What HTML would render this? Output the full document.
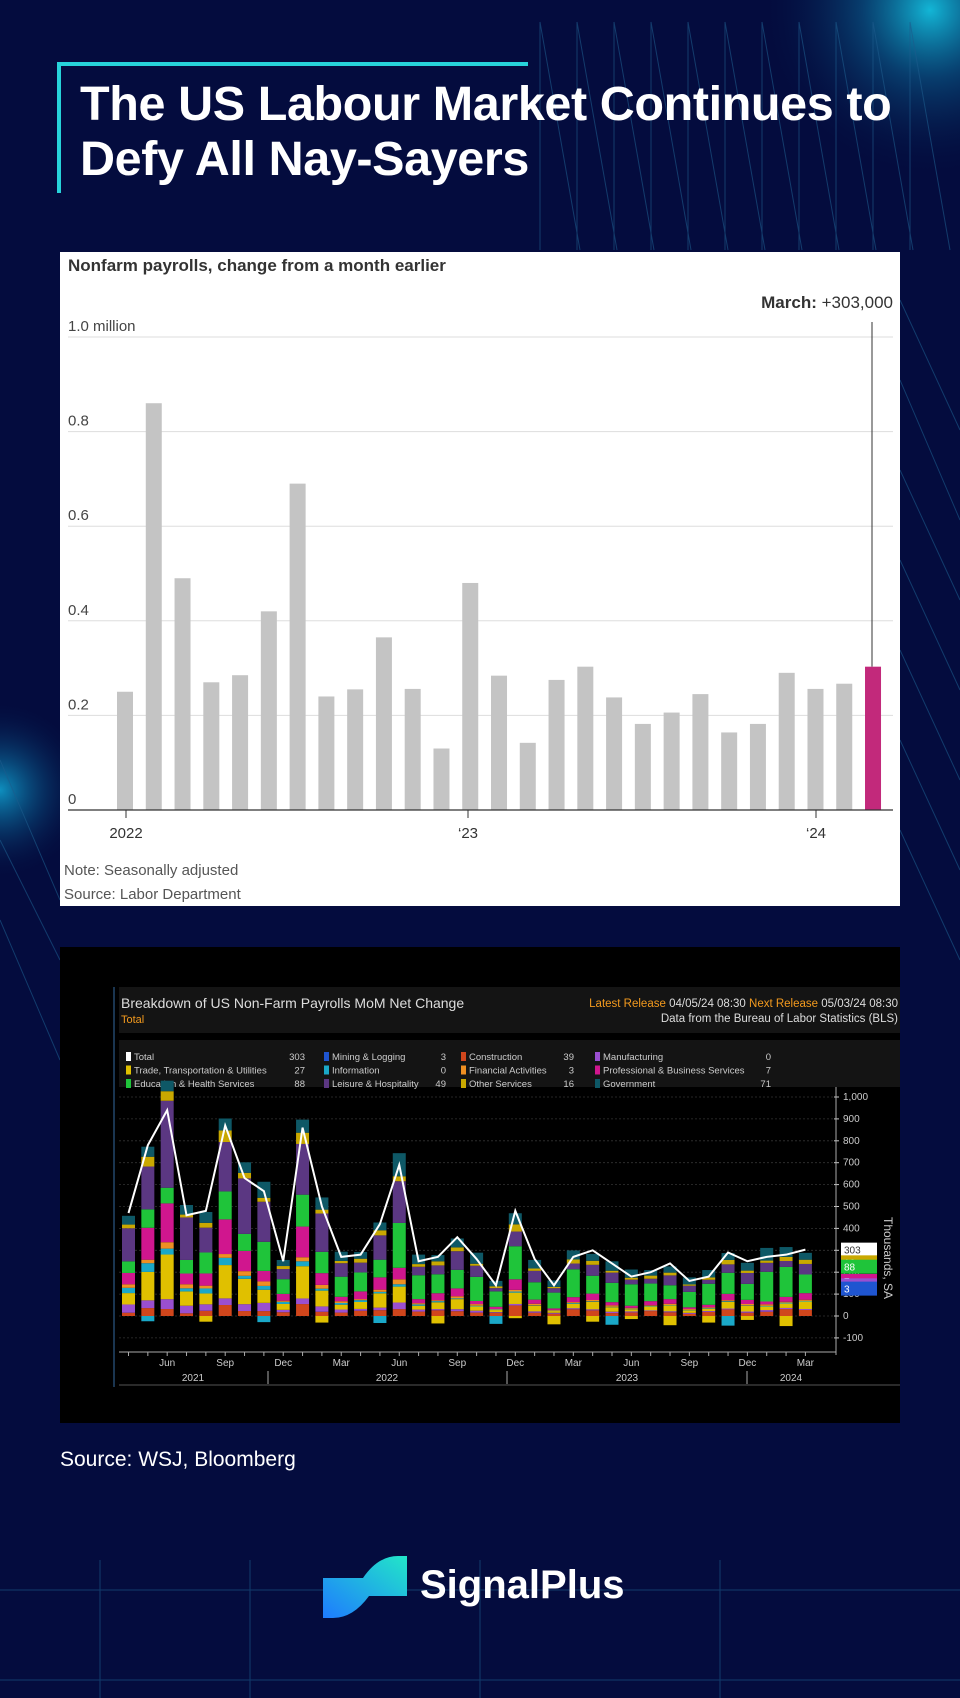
<!DOCTYPE html>
<html><head><meta charset="utf-8">
<style>
html,body{margin:0;padding:0}
body{width:960px;height:1698px;position:relative;overflow:hidden;background:#040c3e;font-family:"Liberation Sans",sans-serif}
.abs{position:absolute}
</style></head><body>
<svg class="abs" style="left:0;top:0" width="960" height="1698">
<defs>
<radialGradient id="g1" cx="930" cy="10" r="170" gradientUnits="userSpaceOnUse"><stop offset="0" stop-color="#13b6d6"/><stop offset="0.4" stop-color="#0a5f8e" stop-opacity="0.6"/><stop offset="1" stop-color="#040c3e" stop-opacity="0"/></radialGradient>
<radialGradient id="g2" cx="0" cy="790" r="90" gradientUnits="userSpaceOnUse"><stop offset="0" stop-color="#0e8fbf"/><stop offset="1" stop-color="#040c3e" stop-opacity="0"/></radialGradient>
<linearGradient id="lg" x1="0" y1="1" x2="1" y2="0"><stop offset="0" stop-color="#1e7bff"/><stop offset="1" stop-color="#22e6c8"/></linearGradient>
</defs>
<rect width="960" height="1698" fill="#040c3e"/>
<rect width="960" height="1698" fill="url(#g1)"/>
<rect width="960" height="1698" fill="url(#g2)"/>
<g stroke="#1d5b8c" stroke-width="1" opacity="0.6" fill="none">
<path d="M540 22 L580 250 M577 22 L617 250 M614 22 L654 250 M651 22 L691 250 M688 22 L728 250 M725 22 L765 250 M762 22 L802 250 M799 22 L839 250 M836 22 L876 250 M873 22 L913 250 M910 22 L950 250"/>
<path d="M540 22 V250 M577 22 V250 M614 22 V250 M651 22 V250 M688 22 V250 M725 22 V250 M762 22 V250 M799 22 V250 M836 22 V250 M873 22 V250 M910 22 V250"/>
<path d="M0 760 L60 900 M0 840 L60 960 M0 920 L60 1060 M900 300 L960 430 M900 380 L960 520 M900 470 L960 600 M900 560 L960 690 M900 650 L960 780 M900 740 L960 870 M900 830 L960 960"/>
<path d="M0 1590 H960 M0 1680 H960 M100 1560 V1698 M250 1560 V1698 M480 1560 V1698 M720 1560 V1698"/>
</g>
<rect x="60" y="62" width="468" height="4" fill="#27d3da"/>
<rect x="57" y="62" width="4" height="131" fill="#27d3da"/>
</svg>
<div class="abs" style="left:80px;top:77px;color:#fff;font-weight:bold;font-size:48.5px;line-height:55px;letter-spacing:-0.4px">The US Labour Market Continues to<br>Defy All Nay-Sayers</div>

<svg class="abs" style="left:60px;top:252px" width="840" height="654" id="c1"></svg>
<svg class="abs" style="left:60px;top:947px" width="840" height="476" id="c2"></svg>

<div class="abs" style="left:60px;top:1448px;color:#fff;font-size:21px">Source: WSJ, Bloomberg</div>

<svg class="abs" style="left:323px;top:1556px" width="86" height="62">
<path d="M0 22 L40 22 Q55 0 75 0 L84 0 L84 40 L46 40 Q30 62 10 62 L0 62 Z" fill="url(#lg)"/>
</svg>
<div class="abs" style="left:420px;top:1562px;color:#fff;font-weight:bold;font-size:40px;line-height:46px">SignalPlus</div>

<script>
var NS="http://www.w3.org/2000/svg";
function el(p,t,a,txt){var e=document.createElementNS(NS,t);for(var k in a)e.setAttribute(k,a[k]);if(txt!=null)e.textContent=txt;p.appendChild(e);return e;}
var c1=document.getElementById('c1');
el(c1,'rect',{x:0,y:0,width:840,height:654,fill:'#fff'});
el(c1,'text',{x:8,y:19,'font-size':'17','font-weight':'bold',fill:'#333'},'Nonfarm payrolls, change from a month earlier');
var y0=558,pm=473;
[0.2,0.4,0.6,0.8,1.0].forEach(function(v){var y=y0-v*pm;el(c1,'line',{x1:8,x2:833,y1:y,y2:y,stroke:'#ddd','stroke-width':1});
el(c1,'text',{x:8,y:y-6,'font-size':'15',fill:'#444'},v==1?'1.0 million':v.toFixed(1));});
el(c1,'text',{x:8,y:y0-6,'font-size':'15',fill:'#444'},'0');
var v1=[0.25,0.86,0.49,0.27,0.285,0.42,0.69,0.24,0.255,0.365,0.256,0.13,0.48,0.284,0.142,0.275,0.303,0.238,0.182,0.206,0.245,0.164,0.182,0.29,0.256,0.267,0.303];
v1.forEach(function(v,i){var x=57+i*28.77;var h=v*pm;el(c1,'rect',{x:x,y:y0-h,width:16,height:h,fill:i==26?'#c2297b':'#c4c4c4'});});
el(c1,'line',{x1:8,x2:833,y1:y0,y2:y0,stroke:'#333','stroke-width':1.2});
[[66,'2022'],[408,'\u201823'],[756,'\u201824']].forEach(function(a){el(c1,'line',{x1:a[0],x2:a[0],y1:y0,y2:y0+8,stroke:'#333'});el(c1,'text',{x:a[0],y:y0+28,'font-size':'15','text-anchor':'middle',fill:'#333'},a[1]);});
el(c1,'line',{x1:812,x2:812,y1:70,y2:y0-0.303*pm,stroke:'#333'});
var t=el(c1,'text',{x:833,y:56,'font-size':'17','text-anchor':'end',fill:'#333'});
el(t,'tspan',{'font-weight':'bold'},'March: ');el(t,'tspan',{},'+303,000');
el(c1,'text',{x:4,y:623,'font-size':'15',fill:'#555'},'Note: Seasonally adjusted');
el(c1,'text',{x:4,y:647,'font-size':'15',fill:'#555'},'Source: Labor Department');

var c2=document.getElementById('c2');
el(c2,'rect',{x:0,y:0,width:840,height:476,fill:'#000'});
el(c2,'rect',{x:59,y:40,width:781,height:46,fill:'#141414'});
el(c2,'line',{x1:54,x2:54,y1:40,y2:440,stroke:'#1a3550','stroke-width':2});
el(c2,'text',{x:61,y:61,'font-size':'14',fill:'#ddd'},'Breakdown of US Non-Farm Payrolls MoM Net Change');
el(c2,'text',{x:61,y:76,'font-size':'11',fill:'#f39a1e'},'Total');
var t2=el(c2,'text',{x:838,y:60,'font-size':'11.5','text-anchor':'end',fill:'#ddd'});
el(t2,'tspan',{fill:'#f39a1e'},'Latest Release ');el(t2,'tspan',{},'04/05/24 08:30 ');el(t2,'tspan',{fill:'#f39a1e'},'Next Release ');el(t2,'tspan',{},'05/03/24 08:30');
el(c2,'text',{x:838,y:75,'font-size':'11.5','text-anchor':'end',fill:'#ddd'},'Data from the Bureau of Labor Statistics (BLS)');
el(c2,'rect',{x:59,y:93,width:781,height:47,fill:'#141414'});
var cols={tot:'#ffffff',min:'#1f55d0',con:'#d0461c',man:'#9a4fd0',tra:'#e0c000',inf:'#1aa8c8',fin:'#ef8f22',pro:'#d0168e',edu:'#1fc43a',lei:'#5b3782',oth:'#c9a800',gov:'#0e5866'};
var leg=[[['tot','Total','303'],['min','Mining & Logging','3'],['con','Construction','39'],['man','Manufacturing','0']],
[['tra','Trade, Transportation & Utilities','27'],['inf','Information','0'],['fin','Financial Activities','3'],['pro','Professional & Business Services','7']],
[['edu','Education & Health Services','88'],['lei','Leisure & Hospitality','49'],['oth','Other Services','16'],['gov','Government','71']]];
var lx=[66,264,401,535],lv=[245,386,514,711];
leg.forEach(function(r,ri){r.forEach(function(c,ci){var y=113+ri*13.5;el(c2,'rect',{x:lx[ci],y:y-8,width:5,height:9,fill:cols[c[0]]});
el(c2,'text',{x:lx[ci]+8,y:y,'font-size':'9.5',fill:'#ccc'},c[1]);el(c2,'text',{x:lv[ci],y:y,'font-size':'9.5','text-anchor':'end',fill:'#ccc'},c[2]);});});
var Z=369,S=0.219;
for(var v=-100;v<=1000;v+=100){var y=Z-v*S;el(c2,'line',{x1:59,x2:776,y1:y,y2:y,stroke:'#333','stroke-width':0.8,'stroke-dasharray':'2,2'});
el(c2,'text',{x:783,y:y+3,'font-size':'10',fill:'#ccc'},v==1000?'1,000':v);el(c2,'line',{x1:774,x2:779,y1:y,y2:y,stroke:'#ccc'});}
el(c2,'line',{x1:776,x2:776,y1:140,y2:408,stroke:'#aaa'});
var T=[470,780,940,460,480,870,630,570,250,860,500,270,280,420,690,250,270,360,260,140,480,260,140,270,300,240,180,200,240,160,180,290,250,270,280,303];
var mix0={con:.03,man:.06,tra:.16,inf:.04,fin:.03,pro:.15,edu:.08,lei:.35,oth:.04,gov:.06};
var mix1={con:.08,man:.02,tra:.08,inf:.01,fin:.02,pro:.07,edu:.38,lei:.14,oth:.05,gov:.15};
var order=['con','man','tra','inf','fin','pro','edu','lei','oth','gov'];
T.forEach(function(tv,i){var x=62+i*19.34;var f=Math.min(1,i/20);var base=Z;
 if(i%3==1||i>18&&i%2==0){var nh=(5+(i*7)%20)*S*2;el(c2,'rect',{x:x,y:Z,width:13,height:nh,fill:i%2?cols.inf:cols.tra});}
 order.forEach(function(k,j){var w=mix0[k]*(1-f)+mix1[k]*f;w*=1+0.35*Math.sin(i*1.7+j*2.3);var h=tv*1.06*w*S;
  el(c2,'rect',{x:x,y:base-h,width:13,height:h,fill:cols[k]});base-=h;});
});
var pts=T.map(function(tv,i){return (68.5+i*19.34)+','+(Z-tv*S);}).join(' ');
el(c2,'polyline',{points:pts,fill:'none',stroke:'#fff','stroke-width':2});
el(c2,'line',{x1:59,x2:776,y1:405,y2:405,stroke:'#aaa'});
for(var i=0;i<36;i++){el(c2,'line',{x1:68.5+i*19.34,x2:68.5+i*19.34,y1:405,y2:409,stroke:'#aaa'});}
var ml=['Jun','Sep','Dec','Mar'];
for(var i=2,k=0;i<36;i+=3,k++){el(c2,'text',{x:68.5+i*19.34,y:419,'font-size':'10','text-anchor':'middle',fill:'#ccc'},ml[k%4]);}
[[133,'2021'],[327,'2022'],[567,'2023'],[731,'2024']].forEach(function(a){el(c2,'text',{x:a[0],y:434,'font-size':'10','text-anchor':'middle',fill:'#ccc'},a[1]);});
[208,447,687].forEach(function(x){el(c2,'line',{x1:x,x2:x,y1:424,y2:437,stroke:'#aaa'});});
el(c2,'line',{x1:59,x2:840,y1:438,y2:438,stroke:'#555'});
el(c2,'text',{x:824,y:270,'font-size':'12',fill:'#ccc',transform:'rotate(90 824 270)'},'Thousands, SA');
[[303,'#fff','#333','303'],[245,'#c9a800','#fff','16'],[225,'#1fc43a','#fff','88'],[160,'#d0168e','#fff','7'],[140,'#9a4fd0','#fff','0'],[125,'#1f55d0','#fff','3']].forEach(function(a){var y=Z-a[0]*S;
 el(c2,'rect',{x:781,y:y-7,width:36,height:14,fill:a[1]});el(c2,'text',{x:784,y:y+4,'font-size':'10',fill:a[2]},a[3]);});
</script>
</body></html>
